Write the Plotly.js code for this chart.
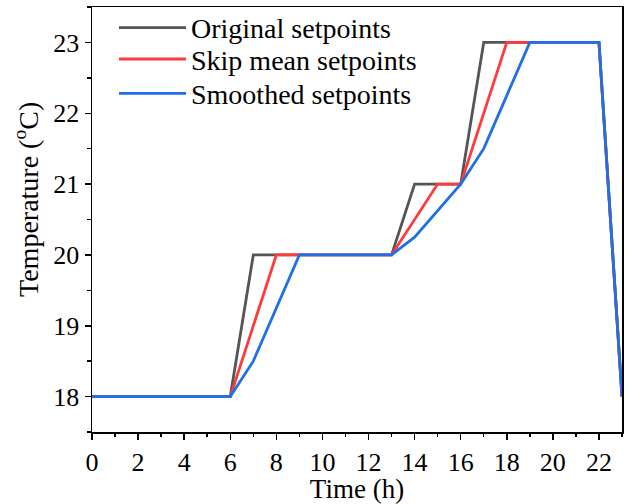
<!DOCTYPE html>
<html>
<head>
<meta charset="utf-8">
<script src="https://cdn.plot.ly/plotly-3.0.1.min.js"></script>
<style>html,body{margin:0;padding:0;background:#fff;}#chart{width:642px;height:504px;}</style>
</head>
<body>
<div id="chart"></div>
<script>
const seriesNames = ["Original setpoints", "Skip mean setpoints", "Smoothed setpoints"];
const originalHours = [0, 6, 7, 13, 14, 16, 17, 22, 23];
const originalTemp  = [18, 18, 20, 20, 21, 21, 23, 23, 18];
const skipHours = [0, 6, 8, 13, 15, 16, 18, 22, 23];
const skipTemp  = [18, 18, 20, 20, 21, 21, 23, 23, 18];
const smoothHours = [0, 6, 7, 9, 13, 14, 16, 17, 19, 22, 23];
const smoothTemp  = [18, 18, 18.5, 20, 20, 20.25, 21, 21.5, 23, 23, 18];
const colors = ["#555555", "#ff3a3a", "#1f6fe6"];
const xTitle = "Time (h)";
const yTitle = "Temperature (<sup>o</sup>C)";

const font = "Liberation Serif, Times New Roman, serif";
const legendIds = ["legend", "legend2", "legend3"];
const traces = [
  {x: originalHours, y: originalTemp, name: seriesNames[0]},
  {x: skipHours, y: skipTemp, name: seriesNames[1]},
  {x: smoothHours, y: smoothTemp, name: seriesNames[2]}
].map((t, i) => Object.assign(t, {
  type: "scatter", mode: "lines", legend: legendIds[i],
  line: {color: colors[i], width: 2.8}
}));

function legendAt(yPaper) {
  return {
    x: 0.0415, y: yPaper, xanchor: "left", yanchor: "middle",
    font: {family: font, size: 28, color: "#000"},
    bgcolor: "rgba(0,0,0,0)", borderwidth: 0, itemwidth: 67
  };
}

const layout = {
  width: 642, height: 504,
  margin: {l: 92, r: 20, t: 7, b: 72, autoexpand: false},
  paper_bgcolor: "#fff", plot_bgcolor: "#fff",
  font: {family: font, color: "#000"},
  showlegend: true,
  legend: legendAt(0.951),
  legend2: legendAt(0.877),
  legend3: legendAt(0.796),
  xaxis: {
    range: [0, 23], dtick: 2, tick0: 0,
    showgrid: false, zeroline: false,
    showline: true, linecolor: "#000", linewidth: 1.5, mirror: true,
    ticks: "outside", ticklen: 6, tickwidth: 1.5, tickcolor: "#000",
    minor: {dtick: 1, ticks: "outside", ticklen: 3.5, tickwidth: 1.5, tickcolor: "#000", showgrid: false},
    tickfont: {family: font, size: 26, color: "#000"},
    title: {text: xTitle, font: {family: font, size: 27, color: "#000"}, standoff: 2}
  },
  yaxis: {
    range: [17.5, 23.5], dtick: 1, tick0: 18,
    showgrid: false, zeroline: false,
    showline: true, linecolor: "#000", linewidth: 1.5, mirror: true,
    ticks: "outside", ticklen: 6, tickwidth: 1.5, tickcolor: "#000",
    minor: {dtick: 0.5, ticks: "outside", ticklen: 3.5, tickwidth: 1.5, tickcolor: "#000", showgrid: false},
    tickfont: {family: font, size: 26, color: "#000"}
  },
  annotations: [{
    text: yTitle, textangle: -90, showarrow: false,
    xref: "paper", yref: "paper", x: -0.1226, y: 0.546,
    xanchor: "center", yanchor: "middle",
    font: {family: font, size: 28, color: "#000"}
  }]
};

Plotly.newPlot("chart", traces, layout, {displayModeBar: false, staticPlot: true});
</script>
</body>
</html>
